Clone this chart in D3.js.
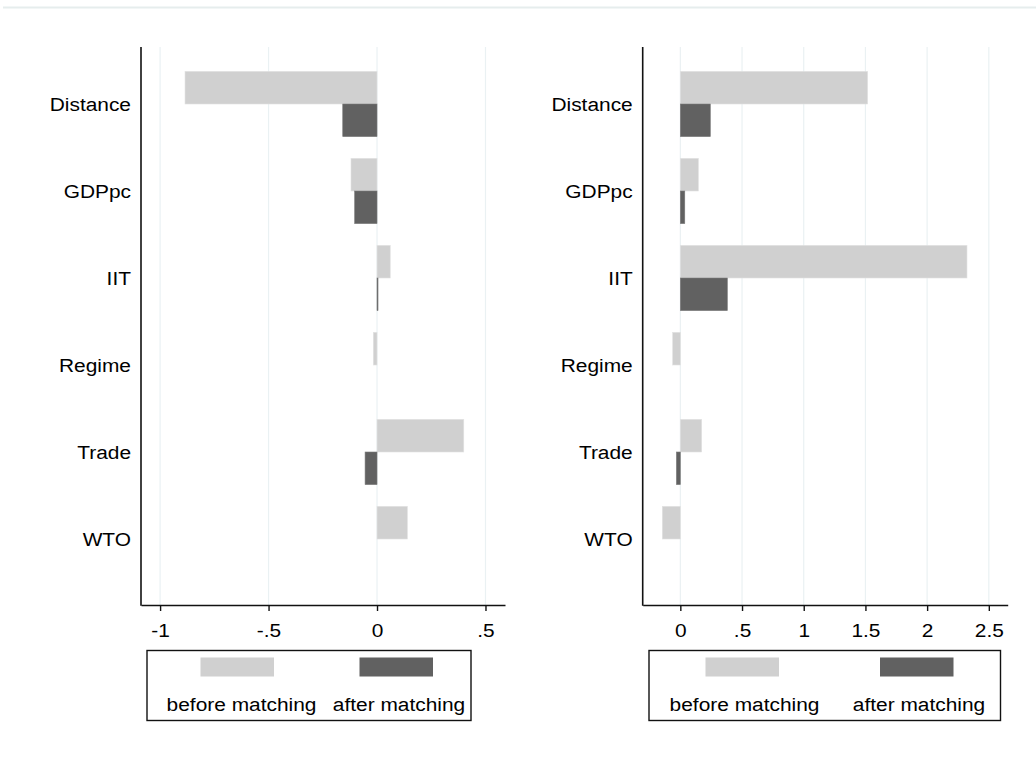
<!DOCTYPE html>
<html>
<head>
<meta charset="utf-8">
<script src="https://cdn.jsdelivr.net/npm/d3@7"></script>
<style>
  body { margin: 0; background: #fff; }
  text { font-family: Arial, "Liberation Sans", sans-serif; fill: #000; }
</style>
</head>
<body>
<div id="chart"></div>
<script>
// data
const categories = ["Distance", "GDPpc", "IIT", "Regime", "Trade", "WTO"]
const leftBefore = [-0.885, -0.12, 0.061, -0.017, 0.40, 0.14]
const leftAfter = [-0.158, -0.103, 0.003, 0, -0.055, 0]
const rightBefore = [1.518, 0.146, 2.323, -0.062, 0.173, -0.146]
const rightAfter = [0.243, 0.036, 0.381, 0, -0.032, 0]
const leftTicks = [-1, -0.5, 0, 0.5]
const leftTickLabels = ["-1", "-.5", "0", ".5"]
const rightTicks = [0, 0.5, 1, 1.5, 2, 2.5]
const rightTickLabels = ["0", ".5", "1", "1.5", "2", "2.5"]
const seriesNames = ["before matching", "after matching"]

const lightGrey = "#d0d0d0"
const darkGrey = "#616161"
const gridColor = "#eaf1f3"
const fontSize = 18
const stretch = 1.16   // the text in the picture is drawn a bit wide

const width = 1036
const height = 759
const plotTop = 47
const plotBottom = 605

const svg = d3.select("#chart")
  .append("svg")
    .attr("width", width)
    .attr("height", height)

// faint frame line along the top
svg.append("line")
  .attr("x1", 3).attr("x2", width)
  .attr("y1", 7.5).attr("y2", 7.5)
  .attr("stroke", "#e6eded")
  .attr("stroke-width", 2)

const yScale = d3.scaleBand()
  .domain(categories)
  .range([60.5, 582.5])
  .padding(0)

const widen = (sel) => {
  sel.each(function() {
    const w = this.getComputedTextLength()
    d3.select(this)
      .attr("textLength", w * stretch)
      .attr("lengthAdjust", "spacingAndGlyphs")
  })
}

const drawPanel = (cfg) => {
  const xScale = d3.scaleLinear()
    .domain(cfg.domain)
    .range([cfg.x0, cfg.x1])

  const g = svg.append("g")

  // grid
  g.selectAll(".grid")
    .data(cfg.ticks)
    .join("line")
      .attr("class", "grid")
      .attr("x1", d => xScale(d)).attr("x2", d => xScale(d))
      .attr("y1", plotTop).attr("y2", plotBottom)
      .attr("stroke", gridColor)
      .attr("stroke-width", 1.2)

  const barH = yScale.bandwidth() * 0.375
  const rows = categories.map((c, i) => ({ c, before: cfg.before[i], after: cfg.after[i] }))

  g.selectAll(".bar-before")
    .data(rows)
    .join("rect")
      .attr("class", "bar-before")
      .attr("x", d => xScale(Math.min(0, d.before)))
      .attr("width", d => Math.abs(xScale(d.before) - xScale(0)))
      .attr("y", d => yScale(d.c) + yScale.bandwidth() / 2 - barH)
      .attr("height", barH)
      .attr("fill", lightGrey)
      .attr("stroke", "#e2e2e2")
      .attr("stroke-width", 0.6)

  g.selectAll(".bar-after")
    .data(rows.filter(d => d.after !== 0))
    .join("rect")
      .attr("class", "bar-after")
      .attr("x", d => xScale(Math.min(0, d.after)))
      .attr("width", d => Math.max(1, Math.abs(xScale(d.after) - xScale(0))))
      .attr("y", d => yScale(d.c) + yScale.bandwidth() / 2)
      .attr("height", barH)
      .attr("fill", darkGrey)
      .attr("stroke", "#7a7a7a")
      .attr("stroke-width", 0.6)

  // category labels
  g.selectAll(".cat")
    .data(categories)
    .join("text")
      .attr("class", "cat")
      .attr("x", cfg.x0 - 10)
      .attr("y", d => yScale(d) + yScale.bandwidth() / 2)
      .attr("dy", "0.38em")
      .attr("text-anchor", "end")
      .attr("font-size", fontSize)
      .text(d => d)
      .call(widen)

  // axes
  const xAxis = d3.axisBottom(xScale)
    .tickValues(cfg.ticks)
    .tickFormat((d, i) => cfg.labels[i])
    .tickSize(6)
    .tickSizeOuter(0)
    .tickPadding(13)

  const ax = g.append("g")
    .attr("transform", `translate(0, ${plotBottom})`)
    .call(xAxis)
  ax.select(".domain").attr("stroke", "#111").attr("stroke-width", 1.6)
  ax.selectAll(".tick line").attr("stroke", "#111").attr("stroke-width", 1.4)
  ax.selectAll(".tick text")
    .attr("font-size", fontSize)
    .attr("font-family", "Arial, 'Liberation Sans', sans-serif")
    .attr("fill", "#000")
    .call(widen)

  g.append("line")
    .attr("x1", cfg.x0).attr("x2", cfg.x0)
    .attr("y1", plotTop).attr("y2", plotBottom + 0.8)
    .attr("stroke", "#111")
    .attr("stroke-width", 1.6)

  // legend
  const lg = cfg.legend
  g.append("rect")
    .attr("x", lg.x0).attr("y", 650.5)
    .attr("width", lg.x1 - lg.x0).attr("height", 70)
    .attr("fill", "#fff")
    .attr("stroke", "#111")
    .attr("stroke-width", 1.4)

  const colors = [lightGrey, darkGrey]
  lg.swatch.forEach((sx, i) => {
    g.append("rect")
      .attr("x", sx).attr("y", 657.5)
      .attr("width", 73.5).attr("height", 19)
      .attr("fill", colors[i])
    g.append("text")
      .attr("x", lg.text[i]).attr("y", 711)
      .attr("text-anchor", "middle")
      .attr("font-size", fontSize)
      .text(seriesNames[i])
      .call(widen)
  })
}

drawPanel({
  domain: [-1.088, 0.59], x0: 141, x1: 505,
  before: leftBefore, after: leftAfter,
  ticks: leftTicks, labels: leftTickLabels,
  legend: { x0: 147, x1: 471, swatch: [200.5, 359.5], text: [241.5, 399] }
})

drawPanel({
  domain: [-0.305, 2.653], x0: 642.7, x1: 1007.7,
  before: rightBefore, after: rightAfter,
  ticks: rightTicks, labels: rightTickLabels,
  legend: { x0: 649, x1: 1000.5, swatch: [705.5, 880], text: [744.5, 919] }
})
</script>
</body>
</html>
